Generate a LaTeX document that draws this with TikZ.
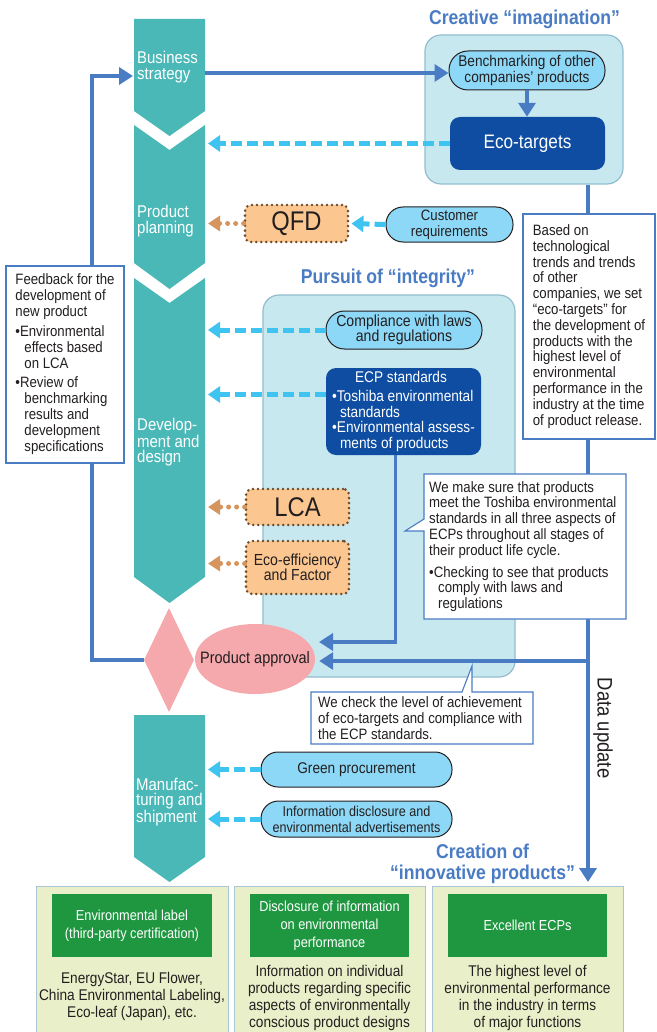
\documentclass[tikz,border=0pt]{standalone}
\usepackage{fontspec}
\setmainfont[FakeStretch=0.88]{Liberation Sans}
\usetikzlibrary{arrows.meta,shapes.geometric}
\definecolor{cteal}{HTML}{4BB8B8}
\definecolor{cpale}{HTML}{C8E8F0}
\definecolor{cpaleb}{HTML}{93BDCE}
\definecolor{coval}{HTML}{8DD8F6}
\definecolor{cdark}{HTML}{0E4DA1}
\definecolor{cblue}{HTML}{4A7CC4}
\definecolor{csky}{HTML}{3FC3F0}
\definecolor{corange}{HTML}{FBC68F}
\definecolor{cbrown}{HTML}{6B4B2C}
\definecolor{ctan}{HTML}{D6955E}
\definecolor{cpink}{HTML}{F5A9AC}
\definecolor{cgreenl}{HTML}{E9F0C9}
\definecolor{cgreen}{HTML}{1F9741}
\definecolor{cgreenb}{HTML}{A8C6D4}
\definecolor{ctext}{HTML}{231F20}
\newcommand{\zzsz}[2]{\fontsize{#1pt}{#2pt}\selectfont}
\begin{document}
\begin{tikzpicture}[x=1pt,y=-1pt,
  every node/.style={text=ctext, inner sep=0pt},
  tealtxt/.style={text=white, align=left, anchor=west, font=\zzsz{17}{15.5}},
  title/.style={text=cblue, align=center, font=\bfseries\zzsz{20}{22}},
  bigbox/.style={fill=cpale, draw=cpaleb, line width=1.2pt, rounded corners=16pt},
  oval/.style={draw=ctext, line width=1pt, fill=coval, align=center, font=\zzsz{15.5}{16}},
  darkbox/.style={fill=cdark, rounded corners=10pt, text=white, draw=none},
  dotbox/.style={fill=corange, draw=cbrown, line width=2.8pt, dash pattern=on 0pt off 5pt, line cap=round, rounded corners=6pt, align=center},
  notebox/.style={draw=cblue, fill=white, line width=1.1pt},
  notetxt/.style={align=left, font=\zzsz{15}{15.8}},
  botbox/.style={fill=cgreenl, draw=cgreenb, line width=1.2pt},
  hdr/.style={fill=cgreen, text=white, align=center, font=\zzsz{14.5}{18}},
  bottxt/.style={align=center, font=\zzsz{15.5}{17}},
  bluearr/.style={draw=cblue, line width=3.6pt, -{Triangle[length=14pt,width=17pt]}},
  dasharr/.style={draw=csky, line width=5pt, dash pattern=on 11pt off 5pt, -{Triangle[length=12pt,width=16pt]}},
  dotarr/.style={draw=ctan, line width=5pt, line cap=round, dash pattern=on 0pt off 8pt, -{Triangle[length=12pt,width=15pt]}}
]
\useasboundingbox (0,0) rectangle (656,1032);
\fill[white] (0,0) rectangle (656,1032);

% teal process column
\fill[cteal] (134,19) -- (205,19) -- (205,111) -- (169.5,136) -- (134,111) -- cycle;
\fill[cteal] (134,125) -- (169.5,150) -- (205,125) -- (205,263) -- (169.5,289) -- (134,263) -- cycle;
\fill[cteal] (134,278) -- (169.5,303) -- (205,278) -- (205,577) -- (169.5,603) -- (134,577) -- cycle;
\fill[cteal] (134,715) -- (205,715) -- (205,857) -- (169.5,882) -- (134,857) -- cycle;
\node[tealtxt] (lbs) at (137,67) {Business\\strategy};
\node[tealtxt] (lpp) at (137,221) {Product\\planning};
\node[tealtxt] (ldd) at (137,442) {Develop-\\ment and\\design};
\node[tealtxt] (lms) at (136,802) {Manufac-\\turing and\\shipment};
\node[diamond, fill=cpink, minimum width=50pt, minimum height=104pt, aspect=0.48] (dia) at (169,660) {};

% group boxes
\node[bigbox, minimum width=198pt, minimum height=149pt] (cre) at (524,109.5) {};
\node[bigbox, minimum width=252pt, minimum height=382pt] (pur) at (389,486) {};

% titles
\node[title] (t1) at (524.5,19) {Creative “imagination”};
\node[title] (t2) at (388,278) {Pursuit of “integrity”};
\node[title] (t3) at (482.5,851) {Creation of};
\node[title] (t4) at (482.5,874) {“innovative products”};

% inner nodes
\node[oval, minimum width=156pt, minimum height=39pt, rounded corners=19pt] (bench) at (527,70.5) {Benchmarking of other\\companies’ products};
\node[darkbox, minimum width=155pt, minimum height=53pt, font=\zzsz{19.5}{20}] (eco) at (527.5,143.5) {Eco-targets};
\node[oval, minimum width=127pt, minimum height=35pt, rounded corners=17pt, font=\zzsz{15}{16}] (cust) at (449.5,224.5) {Customer\\requirements};
\node[dotbox, minimum width=103pt, minimum height=37pt, font=\zzsz{27}{28}] (qfd) at (296.5,223.5) {QFD};
\node[oval, minimum width=156pt, minimum height=38pt, rounded corners=18.5pt, font=\zzsz{16}{15.7}] (comp) at (404,330) {Compliance with laws\\and regulations};
\node[darkbox, minimum width=155pt, minimum height=87pt, align=left, font=\zzsz{15.5}{15.8}] (ecp) at (403.5,411.5) {\hspace*{23pt}ECP standards\\[3pt]•Toshiba environmental\\\hspace*{8pt}standards\\•Environmental assess-\\\hspace*{8pt}ments of products};
\node[dotbox, minimum width=103pt, minimum height=36pt, font=\zzsz{27}{28}] (lca) at (297.5,507) {LCA};
\node[dotbox, minimum width=103pt, minimum height=53pt, font=\zzsz{16}{15.5}] (eff) at (297.5,567.5) {Eco-efficiency\\and Factor};
\node[ellipse, fill=cpink, minimum width=120pt, minimum height=70pt, font=\zzsz{16.5}{17}] (appr) at (255,659) {\makebox[0pt]{Product approval}};
\node[oval, minimum width=191pt, minimum height=35pt, rounded corners=17pt, font=\zzsz{15.5}{16}] (green) at (356.5,769.5) {Green procurement};
\node[oval, minimum width=191pt, minimum height=36pt, rounded corners=17.5pt, font=\zzsz{14.3}{16}] (info) at (356.5,819) {Information disclosure and\\environmental advertisements};

% helper coordinates
\coordinate (tealR) at (208,0);
\coordinate (bsout) at (205,73);
\coordinate (dx) at (588,0);
\coordinate (dend) at (588,882);
\coordinate (ecpin) at (319,642);
\coordinate (fbc) at (92,76);
\coordinate (fbin) at (133,76);

% connectors
\draw[bluearr] (bsout) -- (bsout -| bench.west);
\draw[bluearr] (bench.south) -- (bench.south |- eco.north);
\draw[dasharr] (eco.west) -- (eco.west -| tealR);
\draw[dasharr, shorten >=2pt] (cust.west) -- (qfd.east);
\draw[dotarr] (qfd.west) -- (qfd.west -| tealR);
\draw[dasharr] (comp.west) -- (comp.west -| tealR);
\draw[dasharr] ([yshift=17pt]ecp.west) -- ([yshift=17pt]ecp.west -| tealR);
\draw[dotarr] (lca.west) -- (lca.west -| tealR);
\draw[dotarr] ([yshift=4pt]eff.west) -- ([yshift=4pt]eff.west -| tealR);
\draw[dasharr] (green.west) -- (green.west -| tealR);
\draw[dasharr] (info.west) -- (info.west -| tealR);
\draw[bluearr] (cre.south -| dx) -- (dend);
\draw[bluearr, shorten >=4pt] ([yshift=-2pt]appr.east -| dx) -- ([yshift=-2pt]appr.east);
\draw[bluearr] ([xshift=-8pt]ecp.south) |- (ecpin);
\draw[bluearr] (dia.west) -| (fbc) -- (fbin);

\node[rotate=-90, font=\zzsz{21}{21}] (du) at (603,728) {Data update};

% white note boxes
\node[notebox, notetxt, minimum width=118pt, minimum height=197pt, font=\zzsz{15}{16}] (fb) at (65,364.5) {Feedback for the\\development of\\new product\\[4pt]•Environmental\\\hspace*{9pt}effects based\\\hspace*{9pt}on LCA\\[3pt]•Review of\\\hspace*{9pt}benchmarking\\\hspace*{9pt}results and\\\hspace*{9pt}development\\\hspace*{9pt}specifications};
\node[notebox, notetxt, minimum width=132pt, minimum height=225pt] (note) at (589,326.5) {Based on\\technological\\trends and trends\\of other\\companies, we set\\“eco-targets” for\\the development of\\products with the\\highest level of\\environmental\\performance in the\\industry at the time\\of product release.};
\draw[notebox] (424,474) -- (626,474) -- (626,619) -- (424,619) -- (424,531) -- (405,531) -- (424,519) -- cycle;
\node[notetxt, anchor=north west] (c1) at (429,481) {We make sure that products\\meet the Toshiba environmental\\standards in all three aspects of\\ECPs throughout all stages of\\their product life cycle.\\[6pt]•Checking to see that products\\\hspace*{9pt}comply with laws and\\\hspace*{9pt}regulations};
\draw[notebox] (311,692) -- (462,692) -- (472,666) -- (472,692) -- (533,692) -- (533,744) -- (311,744) -- cycle;
\node[notetxt, anchor=north west, font=\zzsz{15}{16}] (c2) at (318,696) {We check the level of achievement\\of eco-targets and compliance with\\the ECP standards.};

% bottom results
\node[botbox, minimum width=192pt, minimum height=154pt, anchor=north west] (b1) at (36,886) {};
\node[botbox, minimum width=191pt, minimum height=154pt, anchor=north west] (b2) at (234,886) {};
\node[botbox, minimum width=191pt, minimum height=154pt, anchor=north west] (b3) at (432,886) {};
\node[hdr, minimum width=160pt, minimum height=63pt] (h1) at (132,925.5) {Environmental label\\(third-party certification)};
\node[hdr, minimum width=159pt, minimum height=63pt] (h2) at (329.5,925.5) {Disclosure of information\\on environmental\\performance};
\node[hdr, minimum width=159pt, minimum height=63pt] (h3) at (527.5,925.5) {Excellent ECPs};
\node[bottxt] (d1) at (132,996) {EnergyStar, EU Flower,\\China Environmental Labeling,\\Eco-leaf (Japan), etc.};
\node[bottxt] (d2) at (329.5,998) {Information on individual\\products regarding specific\\aspects of environmentally\\conscious product designs};
\node[bottxt] (d3) at (527.5,998) {The highest level of\\environmental performance\\in the industry in terms\\of major functions};
\end{tikzpicture}
\end{document}
